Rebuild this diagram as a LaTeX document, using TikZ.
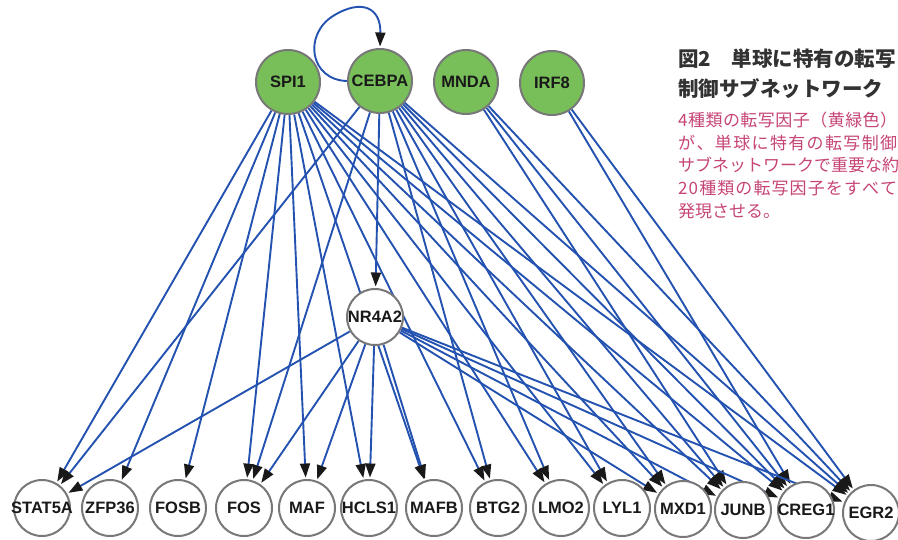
\documentclass[tikz,border=0pt]{standalone}
\usepackage{fontspec}
\setmainfont{Liberation Sans}
\newfontfamily\jp{Noto Sans CJK JP}
\usetikzlibrary{arrows.meta}
\pgfdeclarelayer{bg}
\pgfsetlayers{bg,main}
\definecolor{edgeblue}{RGB}{36,82,176}
\definecolor{tfgreen}{RGB}{120,191,90}
\definecolor{ringgray}{RGB}{120,120,120}
\definecolor{capgray}{RGB}{50,50,50}
\definecolor{cappink}{RGB}{198,68,118}
\newcommand{\ctrtxt}[1]{\makebox[0pt]{#1}}
\let\jstEnd\relax
\def\jst#1{\makebox[219pt][s]{\jstA#1\jstEnd}}
\def\jstA#1#2{#1\ifx#2\jstEnd\else\hfil\expandafter\jstA\expandafter#2\fi}
\begin{document}
\begin{tikzpicture}[x=1pt,y=-1pt,
  tf/.style={circle, draw=ringgray, line width=2pt, fill=tfgreen, minimum size=64pt, inner sep=0pt, font=\fontsize{16.5}{16.5}\selectfont\bfseries, text=black!90},
  gene/.style={circle, draw=ringgray, line width=2pt, fill=white, minimum size=56pt, inner sep=0pt, font=\fontsize{16.5}{16.5}\selectfont\bfseries, text=black!90},
  edge/.style={draw=edgeblue, line width=1.9pt, -{Triangle[length=14pt,width=10pt,color=black!90]}, shorten >=1.5pt},
  captitle/.style={anchor=base west, inner sep=0pt, text=capgray, font=\fontsize{20.5}{20.5}\selectfont\jp\bfseries},
  capbody/.style={anchor=base west, inner sep=0pt, text=cappink, font=\fontsize{17}{17}\selectfont\jp}]
\useasboundingbox (0,0) rectangle (898,539);
% transcription factors
\node[tf] (SPI1) at (288,82) {\ctrtxt{SPI1}};
\node[tf] (CEBPA) at (380,81) {\ctrtxt{CEBPA}};
\node[tf] (MNDA) at (466,82) {\ctrtxt{MNDA}};
\node[tf] (IRF8) at (552,83) {\ctrtxt{IRF8}};
\node[gene] (NR4A2) at (375,317) {\ctrtxt{NR4A2}};
% targets
\node[gene] (STAT5A) at (42,508) {\ctrtxt{STAT5A}};
\node[gene] (ZFP36) at (110,508) {\ctrtxt{ZFP36}};
\node[gene] (FOSB) at (178,508) {\ctrtxt{FOSB}};
\node[gene] (FOS) at (244,508) {\ctrtxt{FOS}};
\node[gene] (MAF) at (307,508) {\ctrtxt{MAF}};
\node[gene] (HCLS1) at (369,508) {\ctrtxt{HCLS1}};
\node[gene] (MAFB) at (434,508) {\ctrtxt{MAFB}};
\node[gene] (BTG2) at (498,508) {\ctrtxt{BTG2}};
\node[gene] (LMO2) at (561,508) {\ctrtxt{LMO2}};
\node[gene] (LYL1) at (622,508) {\ctrtxt{LYL1}};
\node[gene] (MXD1) at (683,509) {\ctrtxt{MXD1}};
\node[gene] (JUNB) at (743,510) {\ctrtxt{JUNB}};
\node[gene] (CREG1) at (806,510) {\ctrtxt{CREG1}};
\node[gene] (EGR2) at (871,513) {\ctrtxt{EGR2}};
% edges
\begin{pgfonlayer}{bg}
\draw[edge] (CEBPA.west) .. controls (310,80) and (303,35) .. (333,16) .. controls (362,-2) and (381,8) .. (CEBPA.north);
\foreach \t in {STAT5A,ZFP36,FOSB,FOS,MAF,HCLS1,MAFB,BTG2,LMO2,LYL1,MXD1,JUNB,CREG1,EGR2}
  \draw[edge] (SPI1) -- (\t);
\foreach \t in {STAT5A,FOS,NR4A2,BTG2,LMO2,LYL1,MXD1,JUNB,CREG1,EGR2}
  \draw[edge] (CEBPA) -- (\t);
\foreach \t in {JUNB,CREG1,EGR2}
  \draw[edge] (MNDA) -- (\t);
\foreach \t in {CREG1,EGR2}
  \draw[edge] (IRF8) -- (\t);
\foreach \t in {STAT5A,FOS,MAF,HCLS1,MAFB,MXD1,JUNB,CREG1,EGR2}
  \draw[edge] (NR4A2) -- (\t);
\end{pgfonlayer}
% caption
\node[captitle] (cap1) at (678,66.5) {図2　単球に特有の転写};
\node[captitle] (cap2) at (678,96.5) {制御サブネットワーク};
\node[capbody] (b1) at (678,126) {\jst{4種類の転写因子（黄緑色）}};
\node[capbody] (b2) at (678,149) {\jst{が、単球に特有の転写制御}};
\node[capbody] (b3) at (678,171) {\jst{サブネットワークで重要な約}};
\node[capbody] (b4) at (678,194) {\jst{20種類の転写因子をすべて}};
\node[capbody] (b5) at (678,217) {発現させる。};
\end{tikzpicture}
\end{document}
